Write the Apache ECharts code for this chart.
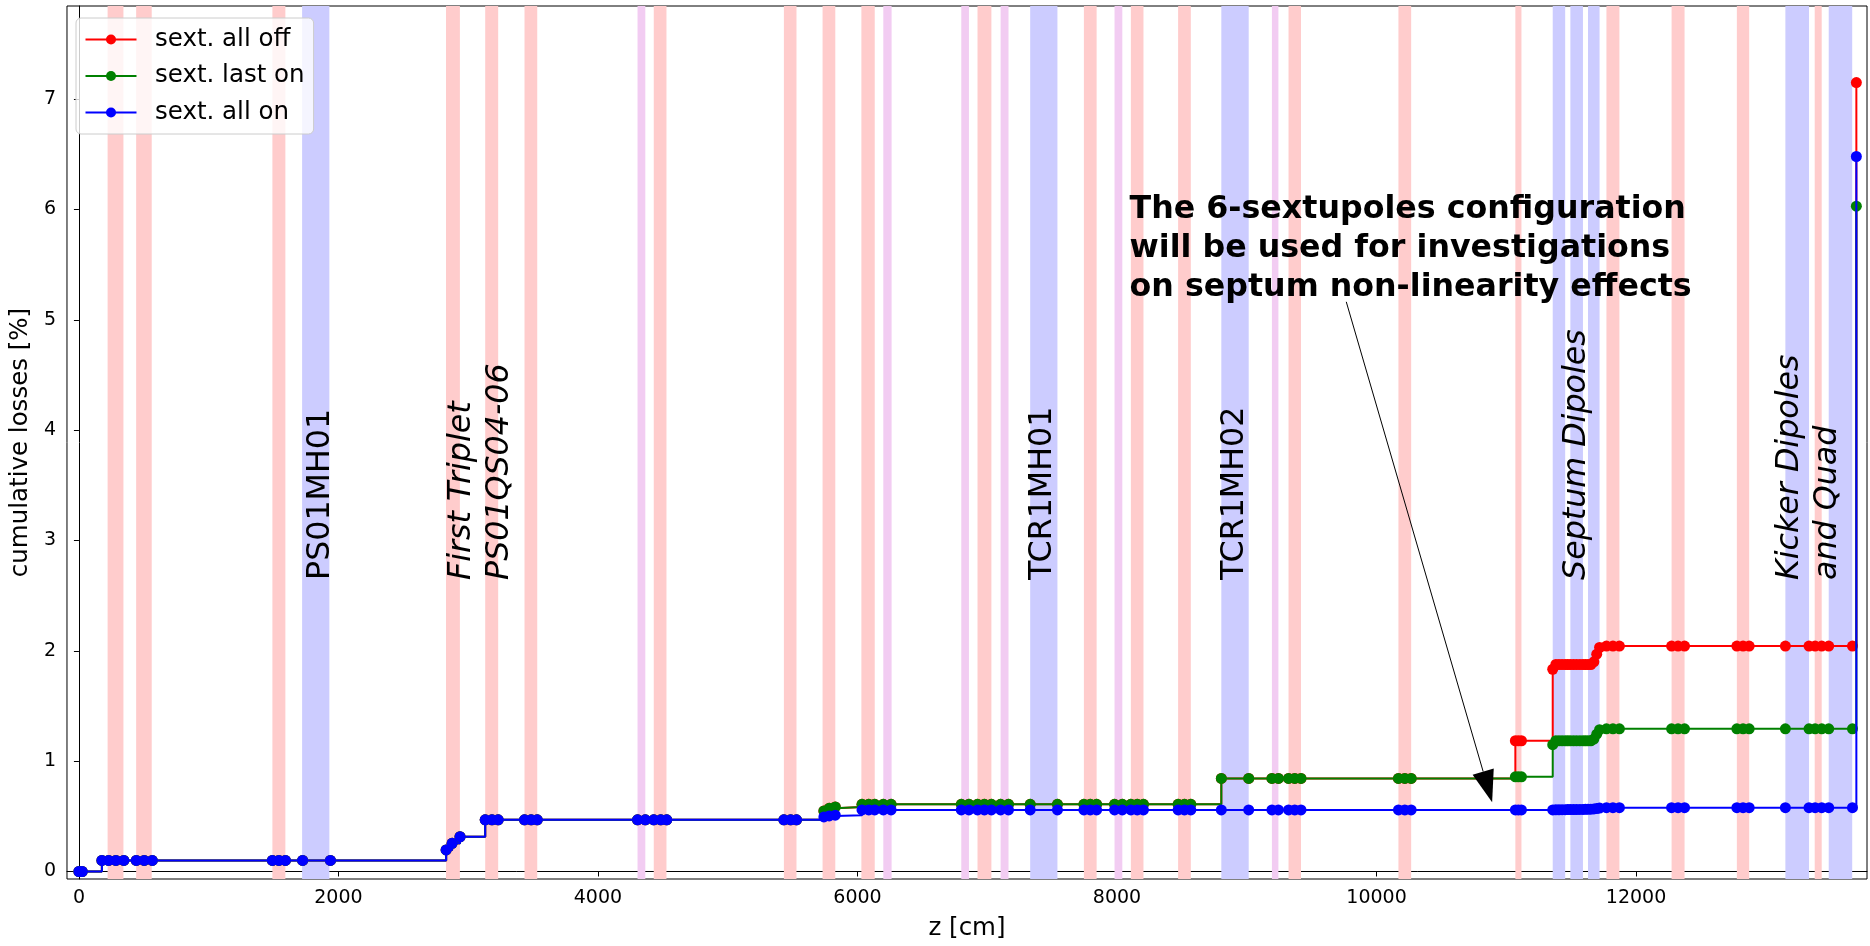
<!DOCTYPE html>
<html><head><meta charset="utf-8">
<script src="https://cdn.jsdelivr.net/npm/echarts@6/dist/echarts.min.js"></script>
<style>html,body{margin:0;padding:0;background:#fff}#c{width:1870px;height:946px}</style>
</head><body><div id="c"></div>
<script>
// ---------------- data ----------------
const zPos = [
  0, 25, 177, 229, 285, 346, 442, 503, 565,
  1491, 1541, 1591, 1724, 1938,
  2830, 2876, 2937,
  3131, 3183, 3231, 3434, 3485, 3532,
  4305, 4365, 4430, 4484, 4530,
  5433, 5485, 5530,
  5741, 5782, 5829,
  6035, 6087, 6133, 6199, 6259,
  6800, 6859, 6925, 6978, 7032, 7103, 7164,
  7331, 7541,
  7745, 7794, 7843, 7981, 8041, 8107, 8156, 8204,
  8471, 8520, 8569,
  8804, 9015,
  9194, 9244, 9322, 9370, 9418,
  10169, 10218, 10267,
  11070, 11093, 11117,
  11358, 11382, 11406, 11430, 11454, 11474, 11494, 11518, 11542, 11567, 11591, 11610, 11630, 11652, 11675, 11697, 11719,
  11772, 11822, 11872,
  12274, 12324, 12374,
  12777, 12825, 12872,
  13151, 13333, 13380, 13431, 13485, 13668, 13698
];
const lossAllOff = [
  0, 0, 0.1, 0.1, 0.1, 0.1, 0.1, 0.1, 0.1,
  0.1, 0.1, 0.1, 0.1, 0.1,
  0.195, 0.255, 0.315,
  0.468, 0.468, 0.468, 0.468, 0.468, 0.468,
  0.468, 0.468, 0.468, 0.468, 0.468,
  0.468, 0.468, 0.468,
  0.549, 0.573, 0.585,
  0.609, 0.609, 0.609, 0.609, 0.609,
  0.609, 0.609, 0.609, 0.609, 0.609, 0.609, 0.609,
  0.609, 0.609,
  0.609, 0.609, 0.609, 0.609, 0.609, 0.609, 0.609, 0.609,
  0.609, 0.609, 0.609,
  0.843, 0.843,
  0.843, 0.843, 0.843, 0.843, 0.843,
  0.843, 0.843, 0.843,
  1.185, 1.185, 1.185,
  1.833, 1.876, 1.876, 1.876, 1.876, 1.876, 1.876, 1.876, 1.876, 1.876, 1.876, 1.876, 1.876, 1.876, 1.9, 1.97, 2.03,
  2.043, 2.043, 2.043,
  2.043, 2.043, 2.043,
  2.043, 2.043, 2.043,
  2.043, 2.043, 2.043, 2.043, 2.043, 2.043, 7.15
];
const lossLastOn = [
  0, 0, 0.1, 0.1, 0.1, 0.1, 0.1, 0.1, 0.1,
  0.1, 0.1, 0.1, 0.1, 0.1,
  0.195, 0.255, 0.315,
  0.468, 0.468, 0.468, 0.468, 0.468, 0.468,
  0.468, 0.468, 0.468, 0.468, 0.468,
  0.468, 0.468, 0.468,
  0.549, 0.573, 0.585,
  0.609, 0.609, 0.609, 0.609, 0.609,
  0.609, 0.609, 0.609, 0.609, 0.609, 0.609, 0.609,
  0.609, 0.609,
  0.609, 0.609, 0.609, 0.609, 0.609, 0.609, 0.609, 0.609,
  0.609, 0.609, 0.609,
  0.843, 0.843,
  0.843, 0.843, 0.843, 0.843, 0.843,
  0.843, 0.843, 0.843,
  0.858, 0.858, 0.858,
  1.149, 1.185, 1.185, 1.185, 1.185, 1.185, 1.185, 1.185, 1.185, 1.185, 1.185, 1.185, 1.185, 1.185, 1.2, 1.245, 1.285,
  1.293, 1.293, 1.293,
  1.293, 1.293, 1.293,
  1.293, 1.293, 1.293,
  1.293, 1.293, 1.293, 1.293, 1.293, 1.293, 6.03
];
const lossAllOn = [
  0, 0, 0.1, 0.1, 0.1, 0.1, 0.1, 0.1, 0.1,
  0.1, 0.1, 0.1, 0.1, 0.1,
  0.195, 0.255, 0.315,
  0.468, 0.468, 0.468, 0.468, 0.468, 0.468,
  0.468, 0.468, 0.468, 0.468, 0.468,
  0.468, 0.468, 0.468,
  0.495, 0.504, 0.51,
  0.558, 0.558, 0.558, 0.558, 0.558,
  0.558, 0.558, 0.558, 0.558, 0.558, 0.558, 0.558,
  0.558, 0.558,
  0.558, 0.558, 0.558, 0.558, 0.558, 0.558, 0.558, 0.558,
  0.558, 0.558, 0.558,
  0.558, 0.558,
  0.558, 0.558, 0.558, 0.558, 0.558,
  0.558, 0.558, 0.558,
  0.558, 0.558, 0.558,
  0.558, 0.559, 0.559, 0.56, 0.56, 0.561, 0.561, 0.562, 0.562, 0.563, 0.563, 0.564, 0.564, 0.565, 0.567, 0.571, 0.575,
  0.578, 0.578, 0.578,
  0.578, 0.578, 0.578,
  0.578, 0.578, 0.578,
  0.578, 0.578, 0.578, 0.578, 0.578, 0.578, 6.48
];
const seriesNames = ['sext. all off', 'sext. last on', 'sext. all on'];
const xTicks = [0, 2000, 4000, 6000, 8000, 10000, 12000];
const yTicks = [0, 1, 2, 3, 4, 5, 6, 7];

// element spans along z [cm]
const quadBands = [[221,343],[441,561],[1491,1591],[2829,2936],[3131,3231],[3434,3532],[4430,4528],[5433,5530],[5731,5829],[6030,6133],[6925,7032],[7745,7843],[8107,8204],[8471,8569],[9322,9418],[10169,10267],[11070,11117],[11772,11872],[12274,12374],[12777,12872],[13377,13431]];
const dipoleBands = [[1720,1930],[7331,7541],[8804,9015],[11358,11454],[11494,11591],[11630,11719],[13151,13333],[13485,13666]];
const sextBands = [[4305,4365],[6199,6263],[6800,6859],[7103,7164],[7981,8041],[9194,9244]];

// element labels (text, z of element)
const labelTexts = ['PS01MH01', 'First Triplet\nPS01QS04-06', 'TCR1MH01', 'TCR1MH02', 'Septum Dipoles', 'Kicker Dipoles\nand Quad'];
const labelZ = [1861, 3100, 7426, 8904, 11545, 13335];
const labelItalic = [false, true, false, false, true, true];

const noteText = 'The 6-sextupoles configuration\nwill be used for investigations\non septum non-linearity effects';
const noteAt = [8097, 5.641];
const arrowTail = [9767, 5.163];
const arrowTip = [10891, 0.627];

// ---------------- chart ----------------
const X_MIN = -92, X_MAX = 13780, Y_MIN = -0.068, Y_MAX = 7.844;
const FONT = 'DejaVu Sans';
const colors = ['#ff0000', '#008000', '#0000ff'];
const lossSeries = [lossAllOff, lossLastOn, lossAllOn];

function bandSeries(name, bands, color) {
  return {
    type: 'custom', name: name, silent: true, z: 1,
    data: bands, encode: { x: [0, 1] },
    renderItem: function (params, api) {
      const s = api.coord([api.value(0), Y_MAX]);
      const e = api.coord([api.value(1), Y_MIN]);
      return { type: 'rect', shape: { x: s[0], y: s[1], width: e[0] - s[0], height: e[1] - s[1] }, style: { fill: color } };
    }
  };
}

const series = [
  bandSeries('quads', quadBands, '#ffcccc'),
  bandSeries('dipoles', dipoleBands, '#ccccff'),
  bandSeries('sext', sextBands, '#f2ccf2')
];
seriesNames.forEach(function (n, k) {
  series.push({
    name: n, type: 'line', step: 'end', z: 3 + k,
    data: zPos.map(function (z, i) { return [z, lossSeries[k][i]]; }),
    symbol: 'circle', symbolSize: 11, showSymbol: true,
    lineStyle: { width: 2, color: colors[k] },
    itemStyle: { color: colors[k] },
    emphasis: { disabled: true }
  });
});
series.push({
  type: 'custom', name: 'labels', silent: true, z: 10,
  data: labelZ.map(function (z, i) { return [z, i]; }),
  encode: { x: 0 },
  renderItem: function (params, api) {
    const i = api.value(1);
    const p = api.coord([api.value(0), 2.642]);
    return {
      type: 'text', x: p[0], y: p[1], rotation: Math.PI / 2,
      style: {
        text: labelTexts[i], fill: '#000', fontSize: 31.7, fontFamily: FONT,
        fontStyle: labelItalic[i] ? 'italic' : 'normal',
        align: 'left', verticalAlign: 'middle', lineHeight: 38
      }
    };
  }
});
series.push({
  type: 'custom', name: 'note', silent: true, z: 10,
  data: [[noteAt[0], noteAt[1]]],
  renderItem: function (params, api) {
    const t = api.coord(noteAt);
    const a = api.coord(arrowTail), b = api.coord(arrowTip);
    const dx = b[0] - a[0], dy = b[1] - a[1], L = Math.hypot(dx, dy);
    const ux = dx / L, uy = dy / L, hl = 32, hw = 11;
    const bx = b[0] - ux * hl, by = b[1] - uy * hl;
    return {
      type: 'group', children: [
        { type: 'text', x: t[0], y: t[1], style: { text: noteText, fill: '#000', fontSize: 31.7, fontWeight: 'bold', fontFamily: FONT, align: 'left', verticalAlign: 'middle', lineHeight: 39 } },
        { type: 'line', shape: { x1: a[0], y1: a[1], x2: bx, y2: by }, style: { stroke: '#000', lineWidth: 1 } },
        { type: 'polygon', shape: { points: [[b[0], b[1]], [bx - uy * hw, by + ux * hw], [bx + uy * hw, by - ux * hw]] }, style: { fill: '#000' } }
      ]
    };
  }
});

const chart = echarts.init(document.getElementById('c'), null, { renderer: 'canvas' });
chart.setOption({
  animation: false,
  backgroundColor: '#ffffff',
  grid: { left: 64, right: 3, top: 6, bottom: 61, show: true, borderColor: '#000', borderWidth: 1, backgroundColor: 'transparent' },
  legend: {
    data: seriesNames, orient: 'vertical', left: 76, top: 18,
    itemWidth: 51, itemHeight: 12.5, itemGap: 11.5,
    padding: [9, 9, 9, 8.5],
    backgroundColor: 'rgba(255,255,255,0.8)', borderColor: '#cccccc', borderWidth: 1, borderRadius: 5,
    textStyle: { fontFamily: FONT, fontSize: 24.5, color: '#000', padding: [0, 0, 0, 13.5] },
    selectedMode: false
  },
  xAxis: {
    type: 'value', min: X_MIN, max: X_MAX,
    name: 'z [cm]', nameLocation: 'middle', nameGap: 37,
    nameTextStyle: { fontFamily: FONT, fontSize: 24.5, color: '#000' },
    axisLine: { show: true, lineStyle: { color: '#000', width: 1 } },
    axisTick: { show: true, length: 5, customValues: xTicks, lineStyle: { color: '#000' } },
    axisLabel: { customValues: xTicks, margin: 10, fontFamily: FONT, fontSize: 19, color: '#000', formatter: function (v) { return String(v); } },
    splitLine: { show: false }
  },
  yAxis: {
    type: 'value', min: Y_MIN, max: Y_MAX,
    name: 'cumulative losses [%]', nameLocation: 'middle', nameGap: 22,
    nameTextStyle: { fontFamily: FONT, fontSize: 24.5, color: '#000' },
    axisLine: { show: true, lineStyle: { color: '#000', width: 1 } },
    axisTick: { show: true, length: 5, customValues: yTicks, lineStyle: { color: '#000' } },
    axisLabel: { customValues: yTicks, margin: 11, fontFamily: FONT, fontSize: 19, color: '#000', formatter: function (v) { return String(v); } },
    splitLine: { show: false }
  },
  series: series
});
</script>
</body></html>
